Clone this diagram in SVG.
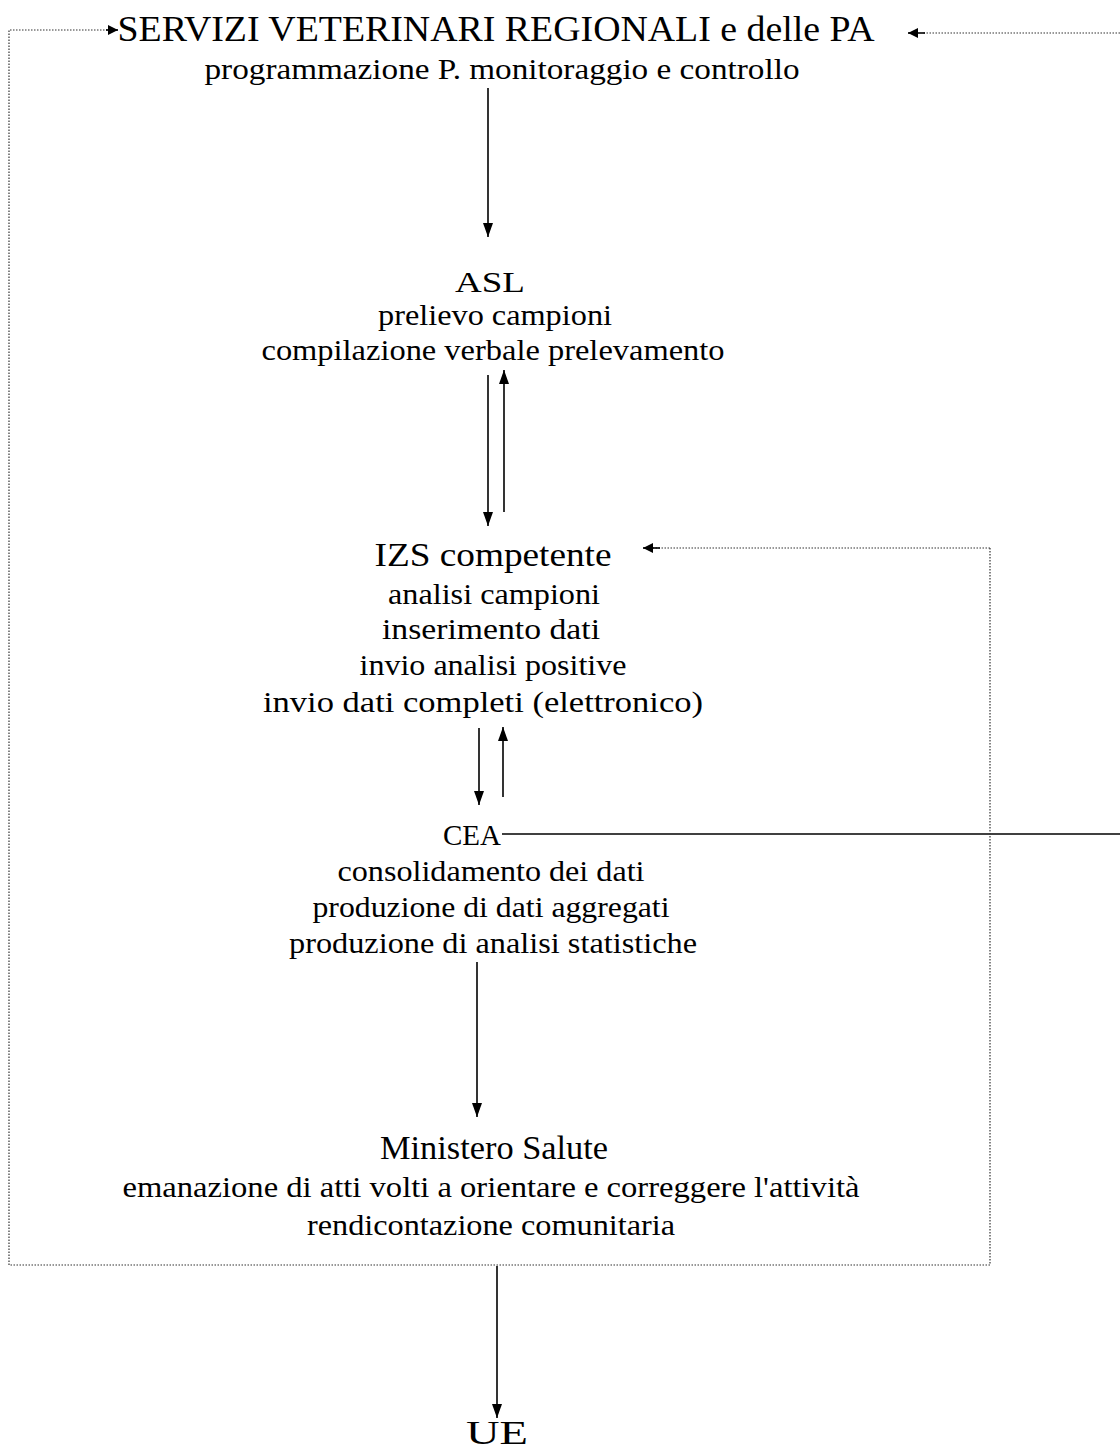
<svg xmlns="http://www.w3.org/2000/svg" width="1120" height="1449" viewBox="0 0 1120 1449">
<style>
text{font-family:"Liberation Serif","Times New Roman",serif;fill:#000;text-anchor:middle}
.h{font-size:33px}
.b{font-size:29px}
.t{font-size:35px}
.solid{stroke:#000;stroke-width:1.6;fill:none}
.dot{stroke:#333;stroke-width:1.2;fill:none;stroke-dasharray:1.5 1.5}
</style>
<defs>
<marker id="ah" viewBox="0 0 10 10" refX="10" refY="5" markerWidth="10" markerHeight="10" markerUnits="userSpaceOnUse" orient="auto">
<path d="M0,0 L10,5 L0,10 z" fill="#000"/>
</marker>
<marker id="ahb" viewBox="0 0 14 10" refX="14" refY="5" markerWidth="14" markerHeight="10" markerUnits="userSpaceOnUse" orient="auto">
<path d="M0,0 L14,5 L0,10 z" fill="#000"/>
</marker>
</defs>
<rect width="1120" height="1449" fill="#fff"/>
<g id="servizi">
<text class="t" x="496" y="41" textLength="757" lengthAdjust="spacingAndGlyphs">SERVIZI VETERINARI REGIONALI e delle PA</text>
<text class="b" x="502" y="79" textLength="595" lengthAdjust="spacingAndGlyphs">programmazione P. monitoraggio e controllo</text>
</g>
<g id="asl">
<text class="b" x="490" y="292" font-size="26" textLength="70" lengthAdjust="spacingAndGlyphs">ASL</text>
<text class="b" x="495" y="325" textLength="234" lengthAdjust="spacingAndGlyphs">prelievo campioni</text>
<text class="b" x="493" y="360" textLength="463" lengthAdjust="spacingAndGlyphs">compilazione verbale prelevamento</text>
</g>
<g id="izs">
<text class="h" x="493" y="566" textLength="237" lengthAdjust="spacingAndGlyphs">IZS competente</text>
<text class="b" x="494" y="604" textLength="212" lengthAdjust="spacingAndGlyphs">analisi campioni</text>
<text class="b" x="491" y="639" textLength="218" lengthAdjust="spacingAndGlyphs">inserimento dati</text>
<text class="b" x="493" y="675" textLength="267" lengthAdjust="spacingAndGlyphs">invio analisi positive</text>
<text class="b" x="483" y="712" textLength="440" lengthAdjust="spacingAndGlyphs">invio dati completi (elettronico)</text>
</g>
<g id="cea">
<text class="b" x="472" y="845" font-size="31" textLength="58" lengthAdjust="spacingAndGlyphs">CEA</text>
<text class="b" x="491" y="881" textLength="307" lengthAdjust="spacingAndGlyphs">consolidamento dei dati</text>
<text class="b" x="491" y="917" textLength="357" lengthAdjust="spacingAndGlyphs">produzione di dati aggregati</text>
<text class="b" x="493" y="953" textLength="408" lengthAdjust="spacingAndGlyphs">produzione di analisi statistiche</text>
</g>
<g id="ministero">
<text class="h" x="494" y="1159" textLength="228" lengthAdjust="spacingAndGlyphs">Ministero Salute</text>
<text class="b" x="491" y="1197" textLength="737" lengthAdjust="spacingAndGlyphs">emanazione di atti volti a orientare e correggere l'attività</text>
<text class="b" x="491" y="1235" textLength="368" lengthAdjust="spacingAndGlyphs">rendicontazione comunitaria</text>
</g>
<g id="ue">
<text class="h" x="497" y="1444" textLength="62" lengthAdjust="spacingAndGlyphs">UE</text>
</g>
<g id="connectors">
<line class="solid" x1="488" y1="88" x2="488" y2="237" marker-end="url(#ahb)"/>
<line class="solid" x1="488" y1="375" x2="488" y2="526" marker-end="url(#ahb)"/>
<line class="solid" x1="504" y1="512" x2="504" y2="370" marker-end="url(#ahb)"/>
<line class="solid" x1="479" y1="728" x2="479" y2="805" marker-end="url(#ahb)"/>
<line class="solid" x1="503" y1="797" x2="503" y2="727" marker-end="url(#ahb)"/>
<line class="solid" x1="477" y1="962" x2="477" y2="1117" marker-end="url(#ahb)"/>
<line class="solid" x1="497" y1="1266" x2="497" y2="1418" marker-end="url(#ahb)"/>
<line class="solid" x1="502" y1="834" x2="1120" y2="834"/>
<polyline class="dot" points="990,548 990,1265 9,1265 9,30 108,30"/>
<line class="solid" x1="106" y1="30" x2="118" y2="30" stroke-width="0" marker-end="url(#ah)"/>
<line class="dot" x1="990" y1="548" x2="650" y2="548"/>
<line class="solid" x1="660" y1="548" x2="643" y2="548" stroke-width="0" marker-end="url(#ah)"/>
<line class="dot" x1="1120" y1="33" x2="922" y2="33"/>
<line class="solid" x1="925" y1="33" x2="908" y2="33" stroke-width="0" marker-end="url(#ah)"/>
</g>
</svg>
